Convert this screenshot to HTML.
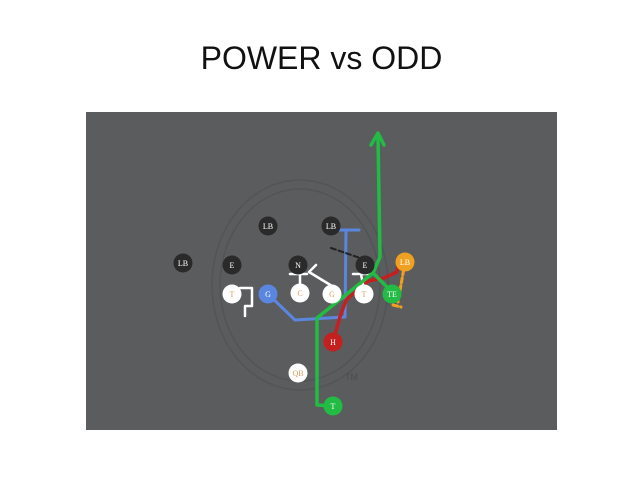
<!DOCTYPE html>
<html><head><style>
body{margin:0;width:643px;height:482px;background:#fff;overflow:hidden;}
.t{position:absolute;left:0;width:643px;top:40px;text-align:center;font-family:"Liberation Sans",sans-serif;font-size:32px;color:#111;}
svg{position:absolute;left:0;top:0}
</style></head><body>
<div class="t">POWER vs ODD</div>
<svg width="643" height="482" viewBox="0 0 643 482">
<rect x="86" y="112" width="471" height="318" fill="#5b5c5e"/>
<g fill="none" stroke="#535456" stroke-width="1.5">
<ellipse cx="300" cy="285" rx="88" ry="105"/>
<ellipse cx="300" cy="285" rx="80" ry="96"/>
</g>
<text x="345" y="380" font-family="Liberation Sans,sans-serif" font-size="9" fill="#4c4d4f">TM</text>
<g fill="none" stroke-linecap="round" stroke-linejoin="round">
<path d="M268 294 L295 320 L345 317 L346 230 M339 230 L359 230" stroke="#5b86e0" stroke-width="3"/>
<path d="M333 342 L340 317 L346 300 L368 281 L384 278 L397 272 L398 266" stroke="#c42020" stroke-width="3.5"/>
<path d="M405 262 L398 302 M393 305 L401 307" stroke="#f0a020" stroke-width="3" stroke-dasharray="5,3"/>
<path d="M331 248 L360 258" stroke="#222" stroke-width="2" stroke-dasharray="5,3"/>
<path d="M290 274 L307 274 M300 284 L300 274 M332 286 L309 272 L316 265 M353 274 L370 274 M363 285 L361 274 M240 288 L252 288 L252 306 L245 306 L245 316" stroke="#fff" stroke-width="2.5"/>
<path d="M333 406 L317 405 L317 318 L373 273 L380 257 L378 137 M373 273 L392 292" stroke="#22bb44" stroke-width="3.5"/>
<path d="M371 145 L378 133 L384 145" stroke="#22bb44" stroke-width="3.5"/>
</g>
<g font-family="Liberation Serif,serif" font-size="8" text-anchor="middle">
<g fill="#2a2a2a"><circle cx="183" cy="263" r="9.5"/><circle cx="268" cy="226" r="9.5"/><circle cx="331" cy="226" r="9.5"/><circle cx="232" cy="265" r="9.5"/><circle cx="298" cy="265" r="9.5"/><circle cx="365" cy="265" r="9.5"/></g>
<g fill="#fff"><text x="183" y="266">LB</text><text x="268" y="229">LB</text><text x="331" y="229">LB</text><text x="232" y="268">E</text><text x="298" y="268">N</text><text x="365" y="268">E</text></g>
<circle cx="405" cy="262" r="9.5" fill="#f0a020"/><text x="405" y="265" fill="#fff">LB</text>
<g fill="#fff"><circle cx="232" cy="294" r="9.5"/><circle cx="300" cy="293" r="9.5"/><circle cx="332" cy="294" r="9.5"/><circle cx="364" cy="294" r="9.5"/><circle cx="298" cy="373" r="9.5"/></g>
<g fill="#d9a060"><text x="232" y="297">T</text><text x="300" y="296">C</text><text x="332" y="297">G</text><text x="364" y="297">T</text><text x="298" y="376">QB</text></g>
<circle cx="268" cy="294" r="9.5" fill="#5b86e0"/><text x="268" y="297" fill="#fff">G</text>
<circle cx="392" cy="294" r="9.5" fill="#22bb44"/><text x="392" y="297" fill="#fff">TE</text>
<circle cx="333" cy="342" r="9.5" fill="#c42020"/><text x="333" y="345" fill="#fff">H</text>
<circle cx="333" cy="406" r="9.5" fill="#22bb44"/><text x="333" y="409" fill="#fff">T</text>
</g>
</svg>
</body></html>
